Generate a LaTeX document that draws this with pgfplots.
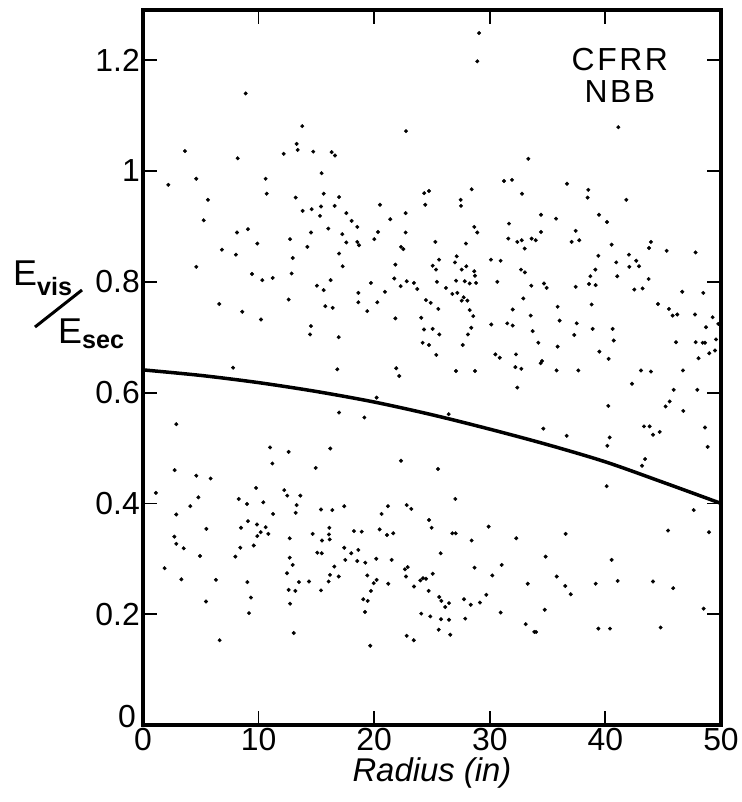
\documentclass[border=0pt]{standalone}
\usepackage{fontspec}
\setmainfont{Liberation Sans}
\usepackage{pgfplots}
\pgfplotsset{compat=1.18}
\begin{document}
\begin{tikzpicture}
\begin{axis}[
  scale only axis, width=578bp, height=715bp,
  xmin=0, xmax=50, ymin=0, ymax=1.2906,
  xtick={0,10,20,30,40,50}, ytick={0.2,0.4,0.6,0.8,1,1.2},
  xticklabels={0,10,20,30,40,50},
  yticklabels={0.2,0.4,0.6,0.8,1,1.2},
  extra y ticks={0}, extra y tick labels={0},
  extra y tick style={yticklabel style={yshift=8bp, xshift=-4bp}},
  tick align=inside, major tick length=14bp,
  tick style={line width=1.8bp, black},
  axis line style={line width=4.5bp},
  ticklabel style={font=\fontsize{32}{36}\selectfont},
  yticklabel style={inner sep=1bp, xshift=-2bp},
  xticklabel style={inner sep=1bp, yshift=-2bp},
  xlabel={\itshape Radius (in)},
  xlabel style={font=\fontsize{33}{36}\selectfont, at={(axis description cs:0.5,-0.067)}, anchor=center},
  clip=false,
]
% scattered points
\addplot[only marks, mark=*, mark size=1.8bp, black] coordinates {
(8.88,1.140) (13.78,1.081) (3.63,1.036) (8.19,1.023) (13.29,1.049) (13.38,1.038)
(12.17,1.031) (14.73,1.035) (16.32,1.034) (16.61,1.028) (2.19,0.975) (4.61,0.986)
(10.61,0.986) (15.45,0.996) (5.62,0.948) (10.70,0.959) (13.21,0.952) (15.63,0.959)
(16.96,0.953) (5.25,0.911) (13.81,0.928) (14.59,0.931) (15.40,0.936) (16.58,0.937)
(15.31,0.919) (16.03,0.896) (8.13,0.889) (9.08,0.895) (14.53,0.889) (12.72,0.877)
(6.83,0.858) (9.89,0.869) (8.04,0.849) (14.22,0.863) (16.96,0.851) (12.95,0.843)
(4.61,0.827) (9.43,0.814) (10.32,0.803) (11.22,0.807) (12.86,0.815) (16.23,0.803)
(15.05,0.793) (15.63,0.785) (6.60,0.760) (12.60,0.768) (8.59,0.746) (15.77,0.756)
(16.41,0.753) (10.21,0.732) (14.53,0.720) (14.45,0.705) (16.93,0.700) (7.79,0.645)
(16.81,0.642)
(29.07,1.249) (28.92,1.198) (22.75,1.072) (33.33,1.022) (31.23,0.982) (31.92,0.984)
(28.43,0.967) (32.79,0.959) (24.33,0.960) (24.74,0.964) (27.48,0.948) (27.51,0.937)
(24.42,0.939) (20.50,0.939) (17.59,0.924) (22.72,0.924) (21.39,0.913) (18.05,0.910)
(18.54,0.899) (28.66,0.899) (28.92,0.889) (31.66,0.905) (17.24,0.886) (20.33,0.890)
(22.72,0.889) (31.60,0.878) (32.38,0.872) (32.76,0.875) (33.62,0.878) (20.01,0.877)
(17.59,0.871) (18.54,0.872) (18.69,0.866) (25.29,0.872) (27.94,0.869) (33.02,0.860)
(22.32,0.863) (22.52,0.859) (17.27,0.828) (21.83,0.831) (25.61,0.840) (27.14,0.846)
(30.10,0.840) (30.94,0.838) (25.06,0.829) (25.35,0.822) (26.99,0.835) (27.57,0.822)
(27.97,0.828) (28.66,0.819) (28.72,0.811) (32.70,0.822) (33.04,0.817) (21.74,0.806)
(19.72,0.798) (22.29,0.792) (22.81,0.801) (23.44,0.798) (23.73,0.787) (25.43,0.800)
(26.21,0.789) (27.08,0.802) (27.83,0.801) (28.26,0.797) (28.81,0.798) (30.65,0.800)
(33.59,0.793) (20.93,0.782) (18.63,0.780) (26.76,0.778) (27.19,0.780) (27.74,0.772)
(27.57,0.766) (28.06,0.766) (32.90,0.770) (18.63,0.763) (20.27,0.763) (24.48,0.767)
(24.89,0.762) (25.55,0.751) (19.40,0.747) (28.26,0.749) (31.98,0.750) (28.57,0.738)
(33.54,0.739) (21.83,0.734) (24.07,0.735) (30.13,0.723) (31.51,0.725) (31.98,0.721)
(24.31,0.714) (25.06,0.715) (28.40,0.717) (33.71,0.711) (25.63,0.705) (28.11,0.705)
(24.19,0.690) (24.74,0.686) (27.66,0.686) (25.37,0.668) (30.48,0.669) (30.86,0.663)
(32.27,0.669) (32.21,0.646) (32.73,0.643) (21.91,0.644) (27.08,0.639) (28.72,0.639)
(41.12,1.079) (36.68,0.977) (38.52,0.966) (38.46,0.952) (41.81,0.948) (34.43,0.921)
(35.73,0.914) (39.45,0.921) (40.14,0.908) (34.43,0.890) (37.43,0.892) (33.97,0.875)
(37.08,0.872) (37.74,0.875) (40.54,0.867) (39.39,0.847) (42.04,0.849) (43.94,0.872)
(43.77,0.861) (45.30,0.856) (47.80,0.853) (40.94,0.835) (42.67,0.838) (42.07,0.827)
(42.91,0.828) (39.13,0.822) (38.70,0.810) (41.03,0.810) (43.74,0.805) (34.69,0.797)
(34.92,0.789) (37.43,0.791) (38.58,0.796) (39.16,0.794) (42.50,0.786) (43.22,0.788)
(46.65,0.782) (48.47,0.780) (35.87,0.755) (38.81,0.759) (44.55,0.760) (45.50,0.751)
(45.82,0.739) (46.22,0.741) (47.75,0.741) (49.28,0.736) (49.77,0.724) (36.04,0.730)
(37.52,0.725) (48.70,0.718) (37.31,0.704) (38.90,0.715) (40.63,0.715) (34.20,0.690)
(40.72,0.694) (46.11,0.691) (47.81,0.691) (48.41,0.690) (48.62,0.690) (49.57,0.696)
(35.87,0.683) (39.48,0.674) (49.48,0.676) (48.99,0.671) (48.06,0.662) (40.28,0.661)
(34.52,0.657) (34.40,0.653) (35.78,0.640) (37.66,0.640) (43.08,0.640) (46.71,0.640)
(43.94,0.638)
(42.30,0.616) (45.91,0.605) (47.95,0.605) (45.56,0.584) (45.21,0.575) (46.74,0.567)
(40.25,0.576) (34.63,0.535) (36.65,0.522) (43.34,0.539) (43.83,0.539) (44.12,0.524)
(44.70,0.529) (48.62,0.537) (48.85,0.502) (40.37,0.519) (40.17,0.504) (43.43,0.480)
(43.17,0.468) (40.11,0.431) (47.64,0.388) (36.56,0.345) (45.42,0.351) (48.96,0.348)
(34.83,0.304) (40.54,0.298) (35.79,0.268) (36.53,0.251) (37.00,0.236) (39.16,0.255)
(41.06,0.260) (44.12,0.259) (45.87,0.247) (34.75,0.208) (48.50,0.210) (34.00,0.168)
(39.39,0.174) (40.40,0.174) (44.78,0.176)
(2.88,0.543) (10.99,0.501) (12.60,0.493) (16.20,0.499) (16.96,0.564) (2.74,0.460)
(11.19,0.472) (14.94,0.464) (4.61,0.450) (5.85,0.445) (1.12,0.419) (9.78,0.428)
(12.22,0.424) (12.48,0.414) (13.61,0.414) (4.79,0.411) (8.28,0.408) (4.09,0.395)
(9.00,0.399) (10.41,0.402) (13.29,0.397) (2.88,0.380) (11.25,0.381) (13.21,0.383)
(15.40,0.389) (16.38,0.388) (9.08,0.368) (5.48,0.354) (8.48,0.356) (9.86,0.362)
(10.61,0.357) (10.18,0.348) (10.84,0.345) (9.89,0.341) (16.12,0.356) (14.68,0.345)
(16.09,0.344) (2.71,0.340) (12.69,0.337) (15.48,0.333) (16.15,0.335) (2.88,0.327)
(3.52,0.319) (9.58,0.324) (8.42,0.320) (15.08,0.311) (15.46,0.310) (4.93,0.305)
(7.99,0.304) (12.69,0.302) (12.95,0.289) (16.55,0.286) (1.87,0.283) (12.46,0.274)
(16.18,0.271) (16.93,0.268) (3.32,0.263) (6.31,0.262) (9.03,0.258) (13.49,0.258)
(14.36,0.259) (16.06,0.259) (12.60,0.244) (13.18,0.242) (15.40,0.243) (9.34,0.230)
(5.45,0.223) (12.72,0.219) (9.17,0.202) (13.04,0.166) (6.63,0.153)
(22.17,0.630) (32.38,0.609) (20.21,0.591) (19.15,0.555) (26.44,0.561) (22.32,0.477)
(25.52,0.462) (27.02,0.408) (17.41,0.395) (21.19,0.395) (22.81,0.397) (23.21,0.390)
(20.64,0.381) (24.74,0.370) (24.97,0.356) (29.90,0.358) (18.25,0.350) (18.92,0.349)
(20.47,0.353) (21.11,0.343) (21.65,0.346) (26.76,0.346) (27.05,0.346) (28.43,0.333)
(32.29,0.337) (17.41,0.320) (18.02,0.310) (18.63,0.316) (25.75,0.310) (17.50,0.298)
(18.54,0.296) (19.23,0.293) (20.18,0.300) (21.51,0.298) (31.03,0.289) (28.68,0.284)
(22.66,0.281) (22.90,0.285) (19.40,0.270) (22.75,0.268) (25.06,0.273) (30.22,0.270)
(20.21,0.262) (19.96,0.256) (21.22,0.255) (23.99,0.261) (24.22,0.265) (24.48,0.264)
(23.44,0.250) (33.28,0.255) (19.72,0.242) (24.71,0.242) (19.06,0.227) (19.44,0.224)
(25.63,0.231) (25.81,0.224) (26.47,0.220) (26.15,0.213) (27.77,0.227) (28.35,0.217)
(29.15,0.221) (29.70,0.235) (19.20,0.204) (24.07,0.201) (24.85,0.196) (25.78,0.191)
(26.47,0.190) (27.88,0.192) (30.94,0.203) (33.11,0.182) (25.58,0.172) (26.58,0.163)
(22.81,0.161) (23.42,0.153) (19.66,0.143) (33.85,0.168)
};
% dividing curve
\addplot[black, line width=3.5bp, smooth] coordinates {
(0,0.641) (5,0.631) (10,0.618) (15,0.602) (20,0.583) (25,0.560)
(30,0.534) (35,0.506) (40,0.475) (45,0.438) (50,0.400)
};
% label in the upper right
\node[font=\fontsize{32}{34}\selectfont\addfontfeature{LetterSpace=8}, align=center]
  at (rel axis cs:0.825,0.909) {CFRR\\[-2bp]NBB};
% y label as a slanted fraction
\node[anchor=base west, inner sep=0pt, font=\fontsize{36}{40}\selectfont]
  at (rel axis cs:-0.2249,0.614) {E\textsubscript{\bfseries vis}};
\node[anchor=base west, inner sep=0pt, font=\fontsize{36}{40}\selectfont]
  at (rel axis cs:-0.147,0.534) {E\textsubscript{\bfseries sec}};
\draw[line width=3bp] (rel axis cs:-0.1869,0.5566) -- (rel axis cs:-0.1055,0.6084);
% page frame
\path (rel axis cs:-0.2474,-0.1077) rectangle (rel axis cs:1.0363,1.014);
\end{axis}
\end{tikzpicture}
\end{document}
